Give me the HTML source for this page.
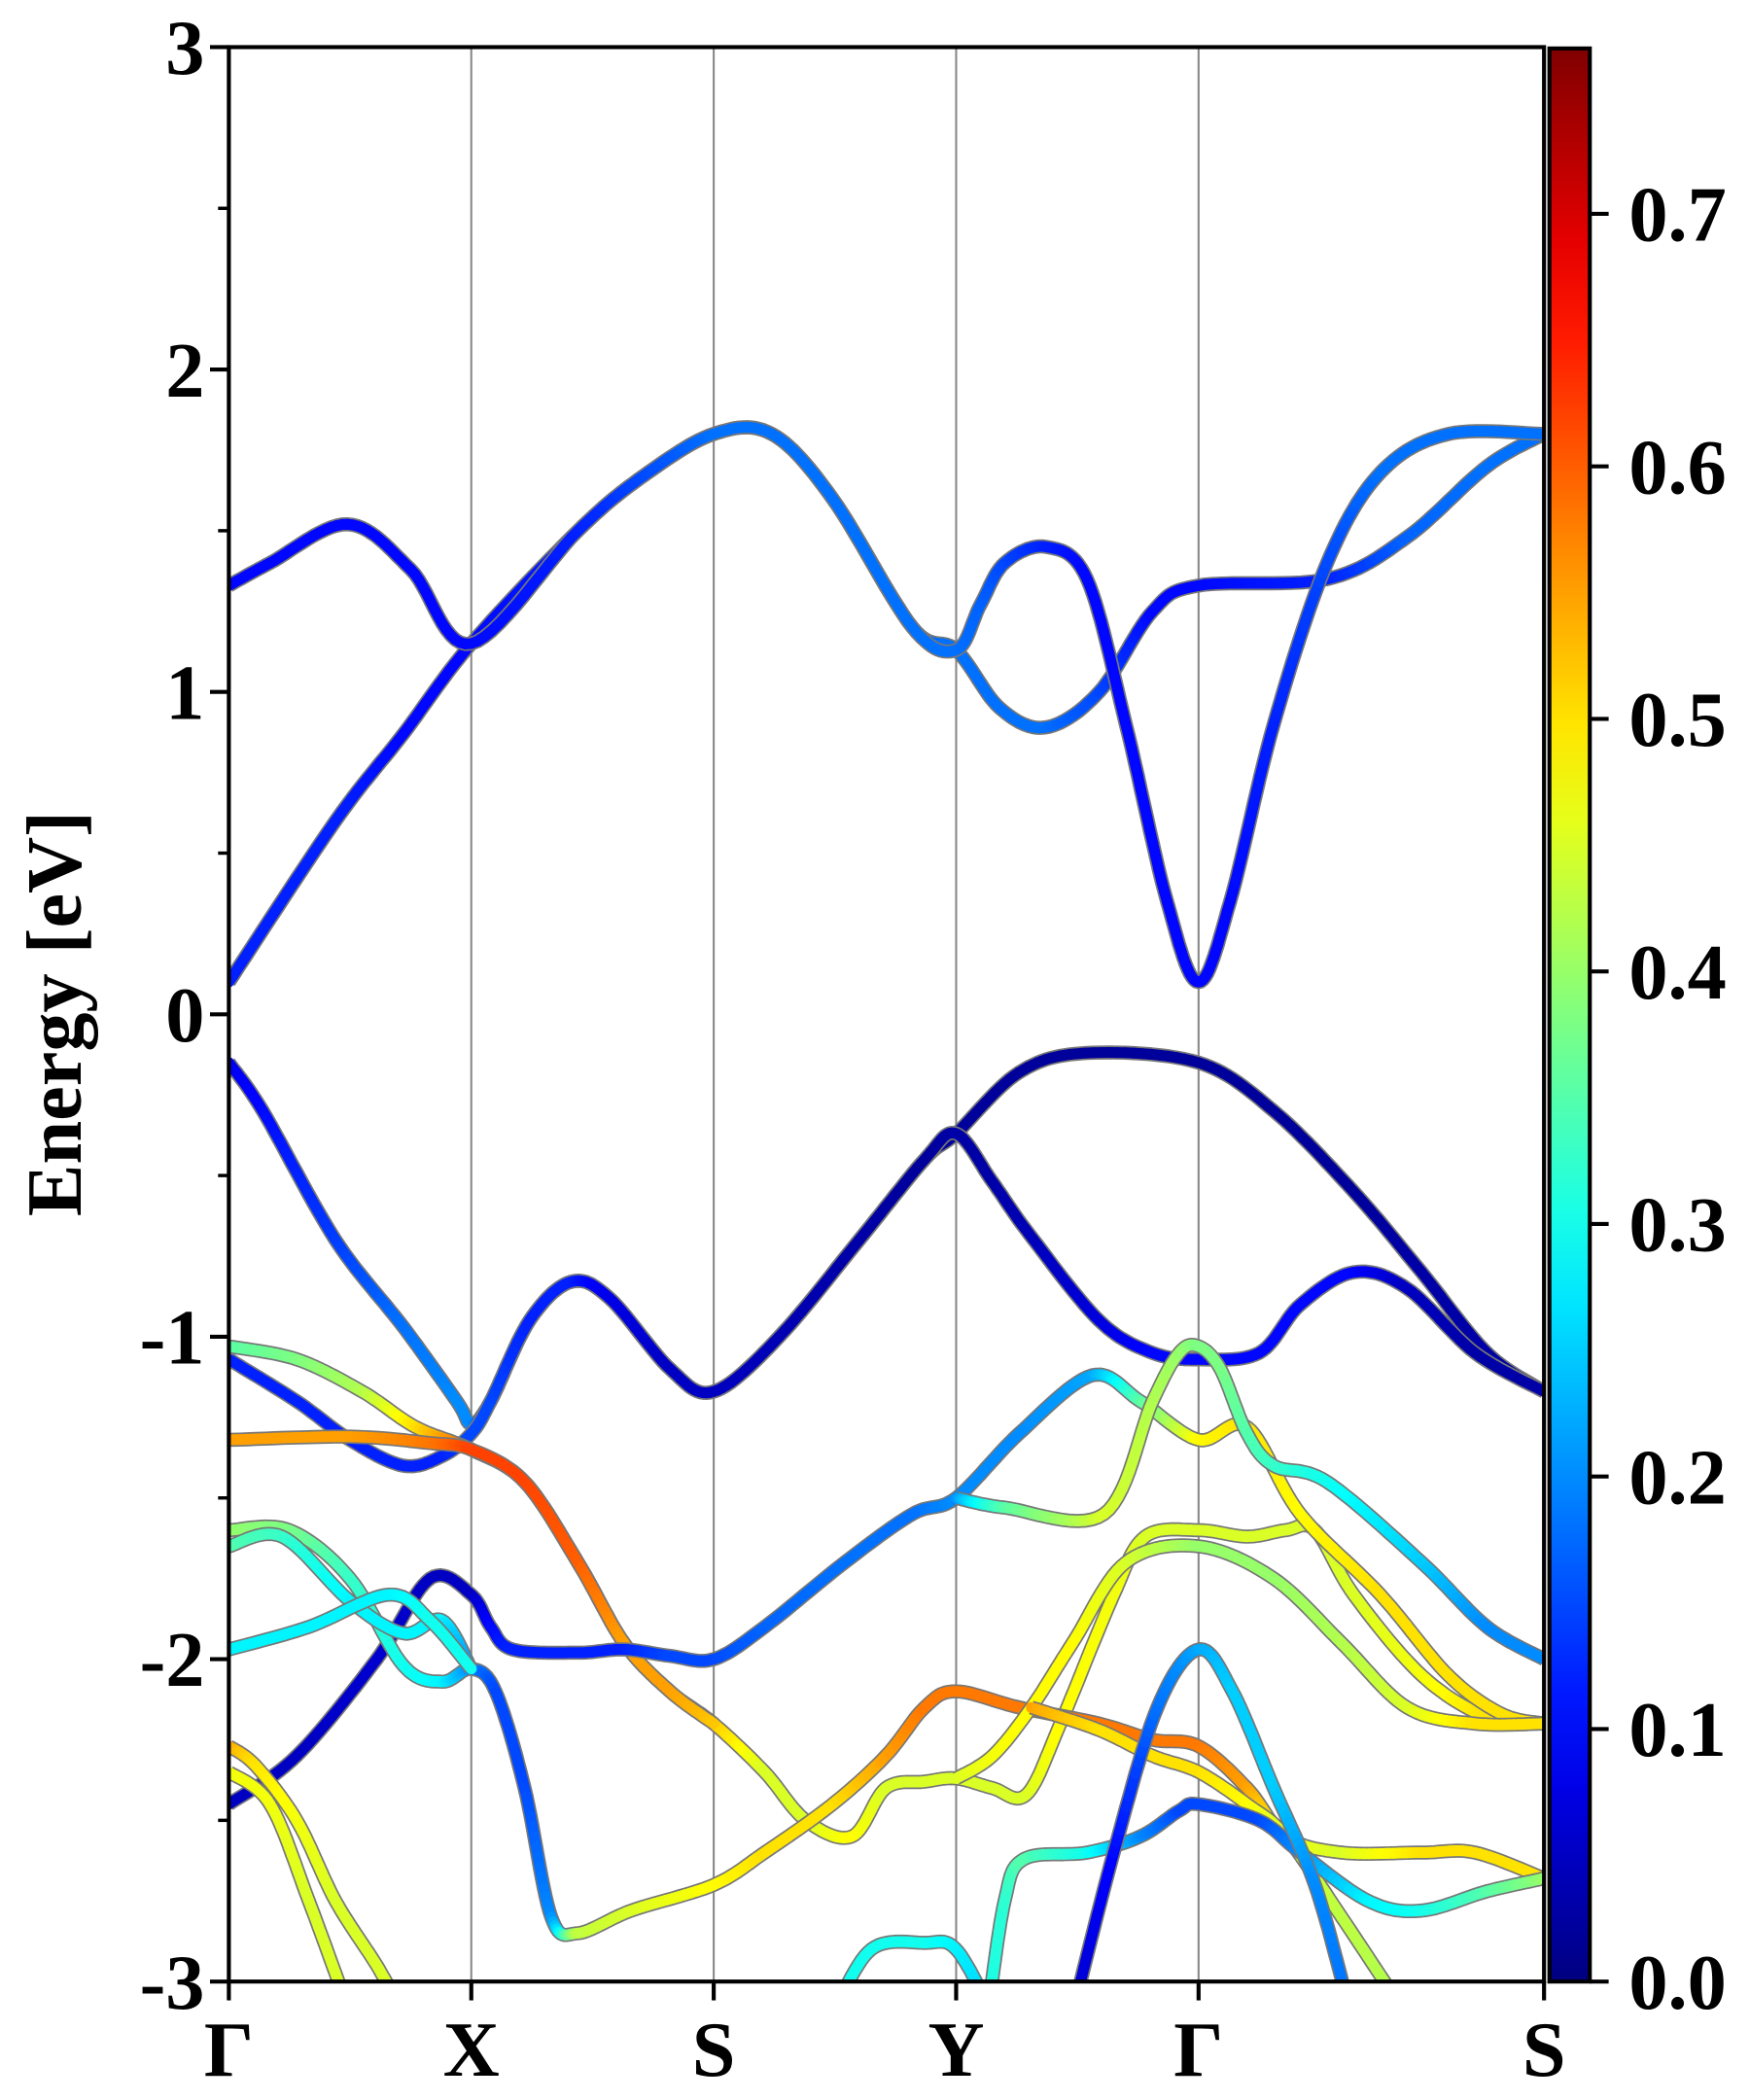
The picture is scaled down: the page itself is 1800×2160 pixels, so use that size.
<!DOCTYPE html>
<html><head><meta charset="utf-8">
<style>
html,body{margin:0;padding:0;background:#fff;}
svg{display:block;font-family:"Liberation Serif",serif;font-weight:bold;}
</style></head>
<body>
<svg id="chart" width="1800" height="2160" viewBox="0 0 1300 1560" xmlns="http://www.w3.org/2000/svg">
<defs>
<clipPath id="plotclip"><rect x="170" y="35" width="977" height="1437"/></clipPath>
<linearGradient id="jetgrad" x1="0" y1="1" x2="0" y2="0"></linearGradient>
</defs>
<g id="gridlines"></g>
<g id="bands" clip-path="url(#plotclip)"></g>
<rect x="170" y="35" width="977" height="1437" fill="none" stroke="#000" stroke-width="3"/>
<g id="axes"></g>
<g id="colorbar"></g>
<text transform="translate(60,753) rotate(-90)" text-anchor="middle" font-size="58">Energy [eV]</text>
</svg>
<script>
// ---- data ----
const kLabels = ["Γ","X","S","Y","Γ","S"];
const kPositions = [0, 1, 2, 3, 4, 5.425];
const yTicks = [3, 2, 1, 0, -1, -2, -3];
const cbTicks = [0.0, 0.1, 0.2, 0.3, 0.4, 0.5, 0.6, 0.7];
const cbMax = 0.7655;
// each band: rows of [k, energy(eV), weight]
const bandC1 = [[0,0.1,.12],[0.44,0.6,.12],[0.72,0.87,.1],[1,1.15,.1],[1.44,1.5,.12],[1.71,1.67,.15],[2,1.8,.18],[2.24,1.8,.18],[2.49,1.6,.18],[2.82,1.2,.18],[3,1.13,.18],[3.18,0.95,.18],[3.37,0.89,.18],[3.59,1.0,.15],[3.81,1.25,.1],[4,1.33,.1],[4.53,1.35,.12],[4.86,1.48,.17],[5.19,1.7,.18],[5.425,1.8,.18]];
const bandC2 = [[0,1.33,.1],[0.17,1.4,.1],[0.49,1.52,.1],[0.75,1.38,.1],[1,1.15,.1],[1.44,1.5,.12],[1.71,1.67,.15],[2,1.8,.18],[2.24,1.8,.18],[2.49,1.6,.18],[2.82,1.2,.18],[3,1.13,.18],[3.1,1.27,.17],[3.2,1.4,.15],[3.37,1.45,.12],[3.54,1.35,.1],[3.7,0.9,.1],[3.87,0.35,.1],[4,0.1,.1],[4.13,0.35,.1],[4.31,0.9,.12],[4.53,1.4,.15],[4.75,1.68,.18],[5.03,1.8,.18],[5.425,1.8,.18]];
const bandV1 = [[0,-0.15,.08],[0.14,-0.3,.1],[0.44,-0.7,.14],[0.72,-0.97,.18],[0.94,-1.2,.2],[1,-1.27,.2],[1.08,-1.2,.15],[1.24,-0.95,.12],[1.41,-0.83,.12],[1.57,-0.88,.08],[1.82,-1.1,.05],[2,-1.17,.05],[2.27,-1.0,.04],[2.6,-0.7,.03],[2.87,-0.45,.02],[3,-0.37,.02],[3.26,-0.18,.02],[3.54,-0.12,.02],[4,-0.15,.02],[4.31,-0.3,.02],[4.64,-0.55,.02],[4.92,-0.8,.03],[5.19,-1.05,.03],[5.425,-1.17,.03]];
const bandV2 = [[0,-1.07,.12],[0.28,-1.2,.12],[0.5,-1.32,.12],[0.72,-1.4,.12],[0.88,-1.37,.12],[1,-1.3,.15],[1.08,-1.2,.15],[1.24,-0.95,.12],[1.41,-0.83,.12],[1.57,-0.88,.08],[1.82,-1.1,.05],[2,-1.17,.05],[2.27,-1.0,.04],[2.6,-0.7,.03],[2.87,-0.45,.02],[3,-0.37,.03],[3.15,-0.52,.03],[3.3,-0.68,.04],[3.59,-0.95,.07],[3.81,-1.05,.1],[4,-1.07,.1],[4.25,-1.05,.1],[4.42,-0.9,.1],[4.64,-0.8,.1],[4.86,-0.85,.05],[5.14,-1.05,.03],[5.425,-1.17,.03]];
const bandV3 = [[0,-1.03,.35],[0.28,-1.07,.38],[0.55,-1.17,.42],[0.77,-1.28,.5],[1,-1.35,.6],[1.22,-1.45,.62],[1.44,-1.7,.6],[1.63,-1.95,.55],[1.82,-2.1,.55],[2,-2.2,.52],[2.21,-2.35,.45],[2.38,-2.5,.45],[2.57,-2.55,.48],[2.71,-2.4,.45],[2.87,-2.38,.45],[3,-2.37,.45],[3.15,-2.4,.45],[3.29,-2.42,.45],[3.43,-2.2,.48],[3.65,-1.8,.47],[3.78,-1.62,.45],[4,-1.6,.45],[4.2,-1.62,.45],[4.36,-1.6,.45],[4.48,-1.6,.45],[4.64,-1.8,.45],[4.92,-2.05,.47],[5.19,-2.18,.5],[5.425,-2.2,.5]];
const bandV4 = [[0,-1.32,.55],[0.5,-1.31,.55],[0.83,-1.33,.58],[1,-1.35,.62],[1.22,-1.45,.62],[1.44,-1.7,.6],[1.63,-1.95,.55],[1.82,-2.1,.55],[2,-2.2,.52]];
const bandV5 = [[0,-2.45,.05],[0.28,-2.3,.05],[0.61,-2.0,.06],[0.83,-1.75,.05],[1,-1.8,.05],[1.08,-1.9,.1],[1.17,-1.97,.12],[1.44,-1.98,.12],[1.63,-1.97,.12],[1.82,-1.99,.15],[2,-2.0,.15],[2.21,-1.9,.17],[2.54,-1.7,.18],[2.82,-1.55,.18],[3,-1.5,.2],[3.26,-1.3,.2],[3.56,-1.12,.22],[3.76,-1.2,.35],[4,-1.32,.48],[4.2,-1.28,.5],[4.42,-1.55,.48],[4.75,-1.8,.5],[5.03,-2.05,.5],[5.25,-2.17,.5],[5.425,-2.2,.5]];
const bandV6 = [[3,-1.5,.2],[3.2,-1.53,.35],[3.61,-1.55,.45],[3.81,-1.2,.42],[3.92,-1.05,.4],[4,-1.03,.38],[4.09,-1.1,.38],[4.2,-1.3,.35],[4.31,-1.4,.33],[4.53,-1.45,.3],[4.92,-1.7,.25],[5.19,-1.9,.2],[5.425,-2.0,.2]];
const bandV7 = [[0,-1.6,.4],[0.25,-1.6,.38],[0.5,-1.75,.33],[0.72,-2.02,.3],[0.88,-2.07,.28],[1,-2.03,.2],[1.1,-2.1,.15],[1.22,-2.4,.15],[1.33,-2.8,.2],[1.44,-2.85,.43],[1.66,-2.78,.45],[2,-2.7,.48],[2.21,-2.6,.5],[2.49,-2.45,.5],[2.71,-2.3,.55],[2.87,-2.15,.58],[3,-2.1,.58],[3.26,-2.15,.58],[3.59,-2.2,.58],[3.81,-2.25,.58],[4,-2.27,.58],[4.2,-2.4,.55],[4.36,-2.55,.47],[4.59,-2.6,.45],[4.92,-2.6,.5],[5.14,-2.6,.5],[5.425,-2.68,.5]];
const bandV8 = [[0,-1.65,.35],[0.22,-1.62,.33],[0.5,-1.82,.28],[0.72,-1.92,.28],[0.88,-1.88,.28],[1,-2.03,.2]];
const bandV9 = [[0,-1.97,.28],[0.33,-1.9,.28],[0.66,-1.8,.28],[0.83,-1.88,.3],[1,-2.03,.3]];
const bandV10 = [[3,-2.37,.45],[3.15,-2.3,.47],[3.31,-2.15,.48],[3.48,-1.95,.48],[3.7,-1.7,.45],[4,-1.65,.4],[4.31,-1.75,.4],[4.59,-1.95,.42],[4.86,-2.15,.45],[5.14,-2.2,.5],[5.425,-2.2,.5]];
const bandV11 = [[3.31,-2.15,.55],[3.59,-2.22,.5],[3.81,-2.3,.5],[4,-2.35,.5],[4.2,-2.45,.48],[4.36,-2.55,.45],[4.59,-2.8,.43],[4.81,-3.05,.42]];
const bandV12 = [[3.13,-3.1,.3],[3.2,-2.75,.32],[3.28,-2.62,.35],[3.54,-2.6,.3],[3.76,-2.55,.2],[3.92,-2.47,.15],[4,-2.45,.15],[4.25,-2.5,.15],[4.42,-2.6,.2],[4.7,-2.75,.28],[4.92,-2.78,.3],[5.19,-2.72,.35],[5.425,-2.68,.4]];
const bandV13 = [[3.48,-3.1,.05],[3.65,-2.6,.1],[3.83,-2.15,.18],[4,-1.97,.22],[4.14,-2.1,.25],[4.31,-2.4,.25],[4.48,-2.7,.2],[4.61,-3.05,.18]];
const bandV14 = [[2.49,-3.1,.3],[2.65,-2.9,.3],[2.87,-2.88,.3],[3,-2.9,.28],[3.15,-3.1,.25]];
const bandV15 = [[0,-2.27,.55],[0.11,-2.33,.5],[0.28,-2.5,.47],[0.44,-2.75,.45],[0.61,-2.95,.45],[0.72,-3.1,.45]];
const bandV16 = [[0,-2.35,.47],[0.17,-2.45,.47],[0.33,-2.75,.45],[0.5,-3.1,.45]];
const bands = [bandC1,bandC2,bandV1,bandV2,bandV3,bandV4,bandV5,bandV6,bandV7,bandV8,bandV9,bandV10,bandV11,bandV12,bandV13,bandV14,bandV15,bandV16];

// ---- scales ----
const X0=170, X1=1147, Y0=35, Y1=1472;
const kMax = kPositions[kPositions.length-1];
function xs(k){return X0 + k/kMax*(X1-X0);}
function ys(e){return Y0 + (3-e)/6*(Y1-Y0);}
function jet(v){
  v=Math.max(0,Math.min(1,v/cbMax));
  const r=Math.max(0,Math.min(1,Math.min(4*v-1.5,-4*v+4.5)));
  const g=Math.max(0,Math.min(1,Math.min(4*v-0.5,-4*v+3.5)));
  const b=Math.max(0,Math.min(1,Math.min(4*v+0.5,-4*v+2.5)));
  return `rgb(${Math.round(r*255)},${Math.round(g*255)},${Math.round(b*255)})`;
}
const NS="http://www.w3.org/2000/svg";
function mk(tag,attrs,parent){const e=document.createElementNS(NS,tag);for(const a in attrs)e.setAttribute(a,attrs[a]);parent.appendChild(e);return e;}

// grid lines
const gl=document.getElementById('gridlines');
kPositions.slice(1,-1).forEach(k=>{
  const l=mk('line',{x1:xs(k),x2:xs(k),y1:Y0,y2:Y1,stroke:'#888','stroke-width':1.5},gl);
  
  
});

// bands
function sample(pts){
  const out=[];
  for(let i=0;i<pts.length-1;i++){
    const p0=pts[Math.max(0,i-1)],p1=pts[i],p2=pts[i+1],p3=pts[Math.min(pts.length-1,i+2)];
    const N=14;
    for(let j=0;j<N;j++){
      const t=j/N,t2=t*t,t3=t2*t;
      const f=(a,b,c,d)=>0.5*((2*b)+(-a+c)*t+(2*a-5*b+4*c-d)*t2+(-a+3*b-3*c+d)*t3);
      out.push([f(xs(p0[0]),xs(p1[0]),xs(p2[0]),xs(p3[0])),f(ys(p0[1]),ys(p1[1]),ys(p2[1]),ys(p3[1])),p1[2]+(p2[2]-p1[2])*t]);
    }
  }
  const l=pts[pts.length-1];out.push([xs(l[0]),ys(l[1]),l[2]]);
  return out;
}
const bg=document.getElementById('bands');
bands.forEach((b,bi)=>{
  const s=sample(b);
  const g=mk('g',{},bg);
  
  
  mk('path',{d:'M'+s.map(p=>p[0].toFixed(1)+','+p[1].toFixed(1)).join('L'),fill:'none',stroke:'#777','stroke-width':10.5,'stroke-linejoin':'round'},g);
  for(let i=0;i<s.length-1;i++){
    mk('line',{x1:s[i][0].toFixed(1),y1:s[i][1].toFixed(1),x2:s[i+1][0].toFixed(1),y2:s[i+1][1].toFixed(1),stroke:jet((s[i][2]+s[i+1][2])/2),'stroke-width':8,'stroke-linecap':'round'},g);
  }
});

// axes
const ax=document.getElementById('axes');
yTicks.forEach(v=>{
  mk('line',{x1:X0-14,x2:X0,y1:ys(v),y2:ys(v),stroke:'#000','stroke-width':3},ax);
  const t=mk('text',{x:X0-18,y:ys(v)+20,'text-anchor':'end','font-size':58},ax);
  t.textContent=String(v);
  
  
});
for(let v=-2.5;v<3;v+=1){mk('line',{x1:X0-8,x2:X0,y1:ys(v),y2:ys(v),stroke:'#000','stroke-width':2.5},ax);}
kPositions.forEach((k,i)=>{
  mk('line',{x1:xs(k),x2:xs(k),y1:Y1,y2:Y1+14,stroke:'#000','stroke-width':3},ax);
  const t=mk('text',{x:xs(k),y:1542,'text-anchor':'middle','font-size':58},ax);
  t.textContent=kLabels[i];
  
  
});

// colorbar
const cb=document.getElementById('colorbar');
const CX0=1151,CX1=1181,CT=36,CB=1472;
const grad=document.getElementById('jetgrad');
for(let i=0;i<=20;i++){mk('stop',{offset:(i/20),'stop-color':jet(i/20*cbMax)},grad);}
const cr=mk('rect',{x:CX0,y:CT,width:CX1-CX0,height:CB-CT,fill:'url(#jetgrad)',stroke:'#000','stroke-width':3},cb);


cbTicks.forEach(v=>{
  const y=CB-(v/cbMax)*(CB-CT);
  mk('line',{x1:CX1,x2:CX1+14,y1:y,y2:y,stroke:'#000','stroke-width':3},cb);
  const t=mk('text',{x:1210,y:y+20,'font-size':58},cb);
  t.textContent=v.toFixed(1);
  
  
});
</script>
</body></html>
